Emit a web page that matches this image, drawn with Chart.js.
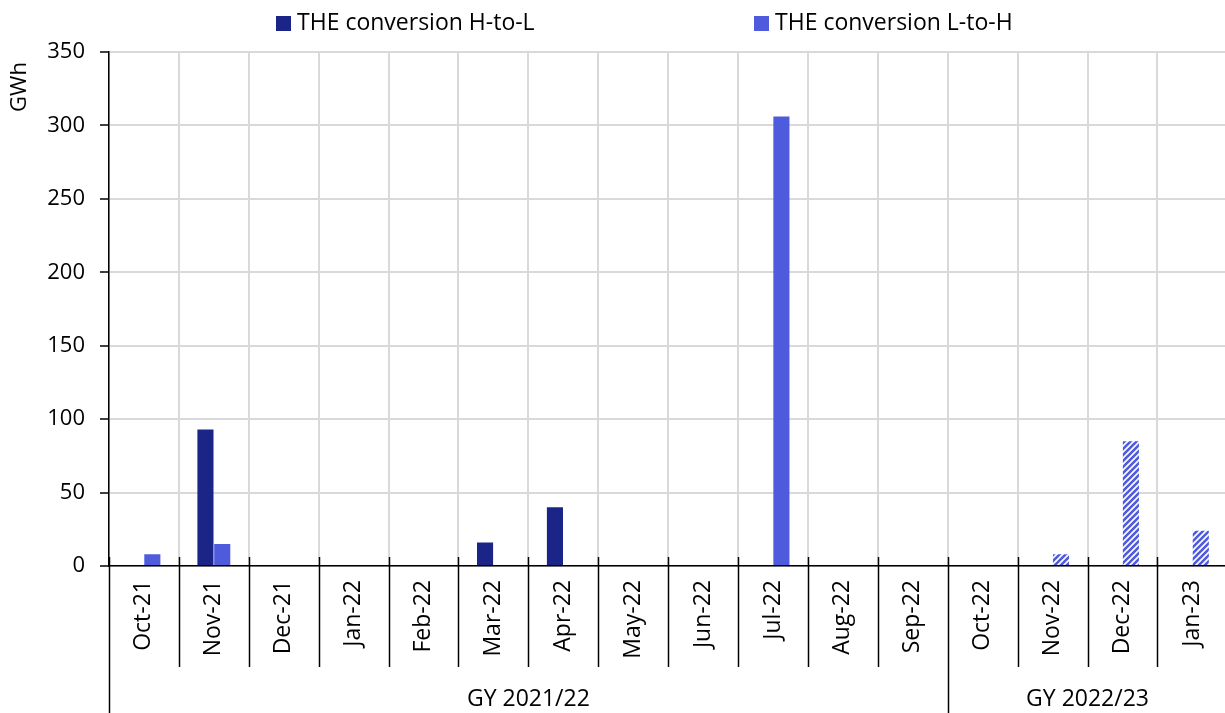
<!DOCTYPE html>
<html>
<head>
<meta charset="utf-8">
<script src="https://cdn.jsdelivr.net/npm/chart.js@4"></script>
<style>
  html, body { margin: 0; padding: 0; background: #fff; overflow: hidden; }
  #wrap { width: 1234px; height: 713px; position: relative; }
</style>
</head>
<body>
<div id="wrap"><canvas id="chart"></canvas></div>
<script>
const categories = ["Oct-21", "Nov-21", "Dec-21", "Jan-22", "Feb-22", "Mar-22", "Apr-22", "May-22",
  "Jun-22", "Jul-22", "Aug-22", "Sep-22", "Oct-22", "Nov-22", "Dec-22", "Jan-23"];
const hToL = [null, 93, null, null, null, 16, 40, null, null, null, null, null, null, null, null, null];
const lToH = [8, 15, null, null, null, null, null, null, null, 306, null, null, null, 8, 85, 24];
const seriesNames = ["THE conversion H-to-L", "THE conversion L-to-H"];
const yMax = 350;
const yStep = 50;
const groups = [
  { label: "GY 2021/22", from: 0, to: 11 },
  { label: "GY 2022/23", from: 12, to: 15 }
];
// months from this index on are provisional (hatched)
const hatchFrom = 12;

const FONT = "'Open Sans', sans-serif";
const NAVY = "#1b2487";
const BLUE = "#4f5bdd";

function makeHatch(color) {
  const c = document.createElement("canvas");
  c.width = 6; c.height = 6;
  const g = c.getContext("2d");
  g.fillStyle = "#fff";
  g.fillRect(0, 0, 6, 6);
  g.strokeStyle = color;
  g.lineWidth = 2.6;
  g.beginPath();
  g.moveTo(-1, 7); g.lineTo(7, -1);
  g.moveTo(-4, 4); g.lineTo(4, -4);
  g.moveTo(2, 10); g.lineTo(10, 2);
  g.stroke();
  return g.createPattern(c, "repeat");
}
const hatch = makeHatch(BLUE);
const lToHColors = categories.map((_, i) => i >= hatchFrom ? hatch : BLUE);

const extras = {
  id: "extras",
  afterDraw(chart) {
    const ctx = chart.ctx;
    const x = chart.scales.x;
    const area = chart.chartArea;
    const n = categories.length;
    const w = (x.right - x.left) / n;
    ctx.save();

    // category separators below the axis
    ctx.strokeStyle = "#000";
    ctx.lineWidth = 1.5;
    const groupStarts = groups.map(g => g.from);
    for (let i = 0; i <= n; i++) {
      const bx = Math.round(x.left + i * w) + 0.5;
      const bottom = groupStarts.includes(i) ? chart.height : area.bottom + 101;
      ctx.beginPath();
      ctx.moveTo(bx, area.bottom - 9);
      ctx.lineTo(bx, bottom);
      ctx.stroke();
    }

    // group labels
    ctx.fillStyle = "#000";
    ctx.font = "23px " + FONT;
    ctx.textAlign = "center";
    ctx.textBaseline = "middle";
    groups.forEach(g => {
      const cx = x.left + ((g.from + g.to + 1) / 2) * w;
      ctx.fillText(g.label, cx, chart.height - 14);
    });

    // y axis unit
    ctx.save();
    ctx.translate(20, 87);
    ctx.rotate(-Math.PI / 2);
    ctx.font = "22px " + FONT;
    ctx.fillText("GWh", 0, 0);
    ctx.restore();

    // legend
    const items = [
      { text: seriesNames[0], color: NAVY, x: 276 },
      { text: seriesNames[1], color: BLUE, x: 754 }
    ];
    ctx.textAlign = "left";
    ctx.font = "23px " + FONT;
    items.forEach(it => {
      ctx.fillStyle = it.color;
      ctx.fillRect(it.x, 16, 15, 15);
      ctx.fillStyle = "#000";
      ctx.fillText(it.text, it.x + 21, 23);
    });
    ctx.restore();
  }
};

new Chart(document.getElementById("chart"), {
  type: "bar",
  data: {
    labels: categories,
    datasets: [
      { label: seriesNames[0], data: hToL, backgroundColor: NAVY },
      { label: seriesNames[1], data: lToH, backgroundColor: lToHColors }
    ]
  },
  options: {
    responsive: true,
    maintainAspectRatio: false,
    animation: false,
    layout: { padding: { top: 52, left: 0, right: 0, bottom: 0 } },
    datasets: { bar: { categoryPercentage: 0.48, barPercentage: 0.96 } },
    plugins: {
      legend: { display: false },
      tooltip: { enabled: false }
    },
    scales: {
      x: {
        grid: { color: "#d9d9d9", lineWidth: 2, offset: true, drawTicks: false },
        border: { color: "#000", width: 1.5 },
        ticks: {
          color: "#000",
          font: { family: FONT, size: 23 },
          minRotation: 90,
          maxRotation: 90,
          padding: 14,
          autoSkip: false
        },
        afterFit(scale) { scale.height = 147; }
      },
      y: {
        min: 0,
        max: yMax,
        ticks: {
          stepSize: yStep,
          color: "#000",
          font: { family: FONT, size: 22 },
          padding: 15
        },
        grid: { color: "#d9d9d9", lineWidth: 2, tickColor: "#000", tickLength: 9, tickWidth: 1.5 },
        border: { color: "#000", width: 1.5 },
        afterFit(scale) { scale.width = 109; }
      }
    }
  },
  plugins: [extras]
});
</script>
</body>
</html>
